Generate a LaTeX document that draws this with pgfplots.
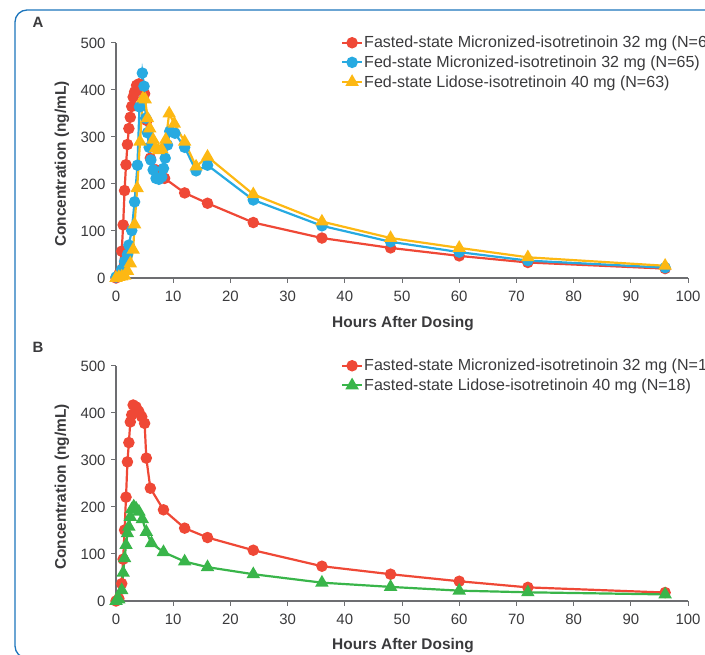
\documentclass[border=0pt]{standalone}
\usepackage{pgfplots}
\pgfplotsset{compat=1.18}
\usepackage{fontspec}
\setmainfont{Liberation Sans}
\definecolor{cred}{HTML}{EF4836}
\definecolor{cblue}{HTML}{27AAE1}
\definecolor{cyellow}{HTML}{FDB813}
\definecolor{cgreen}{HTML}{39B54A}
\definecolor{axgray}{HTML}{6D6E71}
\definecolor{txtgray}{HTML}{3A3A3C}
\definecolor{borderblue}{HTML}{1C75BC}
\pgfplotsset{
  myaxis/.style={
    scale only axis, width=572bp, height=235bp,
    xmin=0, xmax=100, ymin=0, ymax=500,
    axis x line*=bottom, axis y line*=left,
    xtick={0,10,...,100}, ytick={0,100,...,500},
    tick align=outside, major tick length=5bp,
    axis line style={line width=1.2bp, color=axgray},
    every tick/.style={line width=1bp, color=axgray},
    tick label style={font=\fontsize{15}{18}\selectfont, text=txtgray},
    xticklabel style={yshift=-5bp},
    yticklabel style={xshift=-2bp},
    /pgf/number format/assume math mode=true,
    clip=false,
    every axis plot/.append style={line width=2.2bp},
    legend style={anchor=north west, draw=none, fill=none,
      font=\fontsize{16.1}{18}\selectfont, text=txtgray,
      inner sep=0pt, row sep=4.5bp, nodes={inner sep=1bp}},
    legend cell align=left,
    legend image code/.code={\draw[mark repeat=2,mark phase=2] plot coordinates {(0bp,0bp) (10bp,0bp) (20bp,0bp)};},
  },
  redser/.style={color=cred, mark=*, mark size=4.6bp, mark options={solid}},
  blueser/.style={color=cblue, mark=*, mark size=4.6bp, mark options={solid}},
  yelser/.style={color=cyellow, mark=triangle*, mark size=5.6bp, mark options={solid}},
  greenser/.style={color=cgreen, mark=triangle*, mark size=5.6bp, mark options={solid}},
}
\begin{document}
\begin{tikzpicture}[x=1bp,y=1bp]
\useasboundingbox (0,0) rectangle (705,655);
\draw[borderblue, line width=1.3bp, rounded corners=12bp] (15,-3) rectangle (760,645);
\node[font=\bfseries\fontsize{15}{18}\selectfont, text=txtgray] at (38,633) {A};
\node[font=\bfseries\fontsize{15}{18}\selectfont, text=txtgray] at (38,308) {B};
\node[font=\bfseries\fontsize{15.5}{18}\selectfont, text=txtgray, rotate=90] at (62,491) {Concentration (ng/mL)};
\node[font=\bfseries\fontsize{15.5}{18}\selectfont, text=txtgray, rotate=90] at (62,168) {Concentration (ng/mL)};
\node[font=\bfseries\fontsize{15.5}{18}\selectfont, text=txtgray] at (403,331) {Hours After Dosing};
\node[font=\bfseries\fontsize{15.5}{18}\selectfont, text=txtgray] at (403,9) {Hours After Dosing};

\begin{axis}[myaxis, at={(116bp,377bp)}, anchor=south west,
  legend style={at={(0.393,1.034)}}]
\addplot[redser] coordinates {
(0,0) (0.5,8) (1,57) (1.25,113) (1.5,186) (1.75,241) (2,284) (2.25,318) (2.5,342) (2.75,365) (3,385) (3.25,396) (3.6,410) (4,413) (4.6,408) (5,392) (5.4,335) (6,255) (7,230) (8.5,212) (12,181) (16,159) (24,118) (36,85) (48,64) (60,47) (72,33) (96,20)};
\addlegendentry{Fasted-state Micronized-isotretinoin 32 mg (N=66)}
\addplot[blueser] coordinates {
(0,2) (0.5,5) (1,18) (1.5,35) (2,50) (2.25,70) (2.75,101) (3.25,162) (3.75,240) (4.1,364) (4.6,436) (4.9,408) (5.2,340) (5.5,309) (5.8,278) (6.1,251) (6.5,230) (7,212) (7.5,210) (8,215) (8.3,233) (8.6,255) (9,283) (9.4,312) (10.3,308) (12,278) (14,228) (16,240) (24,166) (36,111) (48,77) (60,55) (72,37) (96,22)};
\addlegendentry{Fed-state Micronized-isotretinoin 32 mg (N=65)}
\addplot[yelser] coordinates {
(0,0) (0.5,2) (1,3) (1.5,5) (2,15) (2.5,31) (3,60) (3.25,114) (3.7,191) (4.2,290) (4.7,382) (5.1,380) (5.5,340) (5.9,318) (6.5,294) (6.9,276) (7.4,272) (8,274) (8.7,294) (9.3,350) (10.2,328) (12,290) (14,237) (16,258) (24,178) (36,120) (48,85) (60,64) (72,44) (96,26)};
\addlegendentry{Fed-state Lidose-isotretinoin 40 mg (N=63)}
\end{axis}

\begin{axis}[myaxis, at={(116bp,54bp)}, anchor=south west,
  legend style={at={(0.393,1.034)}}]
\addplot[redser] coordinates {
(0,0) (0.5,5) (1,37) (1.25,89) (1.5,151) (1.75,221) (2,296) (2.25,337) (2.5,381) (2.75,396) (3,417) (3.5,413) (4,403) (4.5,392) (5,378) (5.3,304) (6,240) (8.3,194) (12,155) (16,135) (24,108) (36,74) (48,57) (60,42) (72,29) (96,18)};
\addlegendentry{Fasted-state Micronized-isotretinoin 32 mg (N=18)}
\addplot[greenser] coordinates {
(0,0) (0.5,3) (1,23) (1.25,60) (1.5,91) (1.75,119) (2,144) (2.25,158) (2.5,179) (2.75,195) (3.1,201) (3.5,197) (4,190) (4.6,174) (5.3,147) (6.2,123) (8.3,104) (12,84) (16,72) (24,57) (36,39) (48,30) (60,22) (72,18.5) (96,14)};
\addlegendentry{Fasted-state Lidose-isotretinoin 40 mg (N=18)}
\end{axis}
\end{tikzpicture}
\end{document}
